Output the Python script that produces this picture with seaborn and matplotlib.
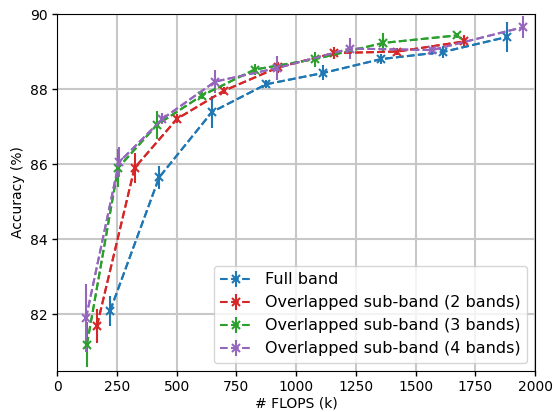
import matplotlib
matplotlib.use("Agg")
import matplotlib.pyplot as plt
import seaborn as sns
import pandas as pd

labels = ["Full band", "Overlapped sub-band (2 bands)",
          "Overlapped sub-band (3 bands)", "Overlapped sub-band (4 bands)"]
colors = ["tab:blue", "tab:red", "tab:green", "tab:purple"]

full_x = [222, 427, 648, 875, 1113, 1356, 1615, 1883]
full_y = [82.10, 85.65, 87.39, 88.13, 88.43, 88.80, 88.99, 89.39]
full_e = [0.40, 0.31, 0.42, 0.11, 0.20, 0.13, 0.15, 0.40]

sub2_x = [167, 324, 502, 699, 925, 1159, 1423, 1703]
sub2_y = [81.70, 85.90, 87.21, 87.96, 88.58, 88.96, 89.00, 89.27]
sub2_e = [0.45, 0.40, 0.12, 0.10, 0.15, 0.15, 0.10, 0.18]

sub3_x = [125, 255, 418, 606, 826, 1080, 1364, 1673]
sub3_y = [81.20, 85.90, 87.05, 87.83, 88.52, 88.80, 89.23, 89.43]
sub3_e = [0.60, 0.50, 0.38, 0.10, 0.15, 0.20, 0.27, 0.06]

sub4_x = [121, 259, 441, 661, 920, 1226, 1569, 1950]
sub4_y = [81.90, 86.05, 87.21, 88.20, 88.56, 89.08, 89.04, 89.65]
sub4_e = [0.90, 0.40, 0.15, 0.30, 0.33, 0.27, 0.13, 0.29]

series = [(full_x, full_y, full_e), (sub2_x, sub2_y, sub2_e),
          (sub3_x, sub3_y, sub3_e), (sub4_x, sub4_y, sub4_e)]

sns.set_style("whitegrid", {"axes.edgecolor": "black", "grid.color": "#c8c8c8",
                            "xtick.bottom": True, "ytick.left": True,
                            "axes.linewidth": 1.0, "text.color": "black",
                            "axes.labelcolor": "black", "xtick.color": "black",
                            "ytick.color": "black"})
plt.rcParams['font.family'] = ['DejaVu Sans']

fig = plt.figure(figsize=(5.54, 4.12), dpi=100)
ax = fig.add_axes([0.103, 0.1, 0.863, 0.866])

rows = []
for lab, (xs, ys, es) in zip(labels, series):
    for x, y, e in zip(xs, ys, es):
        rows.append({"flops": x, "acc": y, "err": e, "model": lab})
df = pd.DataFrame(rows)

sns.lineplot(data=df, x="flops", y="acc", hue="model", hue_order=labels,
             palette=colors, linestyle="--", linewidth=1.5, marker="x",
             markersize=6, markeredgewidth=1.5, legend=False, ax=ax,
             errorbar=None, estimator=None, sort=False)

for lab, col in zip(labels, colors):
    d = df[df.model == lab]
    ax.errorbar(d.flops, d.acc, yerr=d.err, fmt="--x", color=col, ecolor=col,
                elinewidth=1.5, capsize=0, markersize=6, markeredgewidth=1.5,
                linewidth=1.5, label=lab)

ax.set_xlim(0, 2000)
ax.set_ylim(80.5, 90)
ax.set_xticks([0, 250, 500, 750, 1000, 1250, 1500, 1750, 2000])
ax.set_yticks([82, 84, 86, 88, 90])
ax.tick_params(labelsize=10, length=3.5, width=1, color="black", pad=3)
ax.set_xlabel("# FLOPS (k)", fontsize=10, labelpad=2)
ax.set_ylabel("Accuracy (%)", fontsize=10, labelpad=4)
ax.grid(True, linewidth=1.5)
ax.legend(loc="lower right", fontsize=11.5, frameon=True)

fig.savefig("out.png", dpi=100)
